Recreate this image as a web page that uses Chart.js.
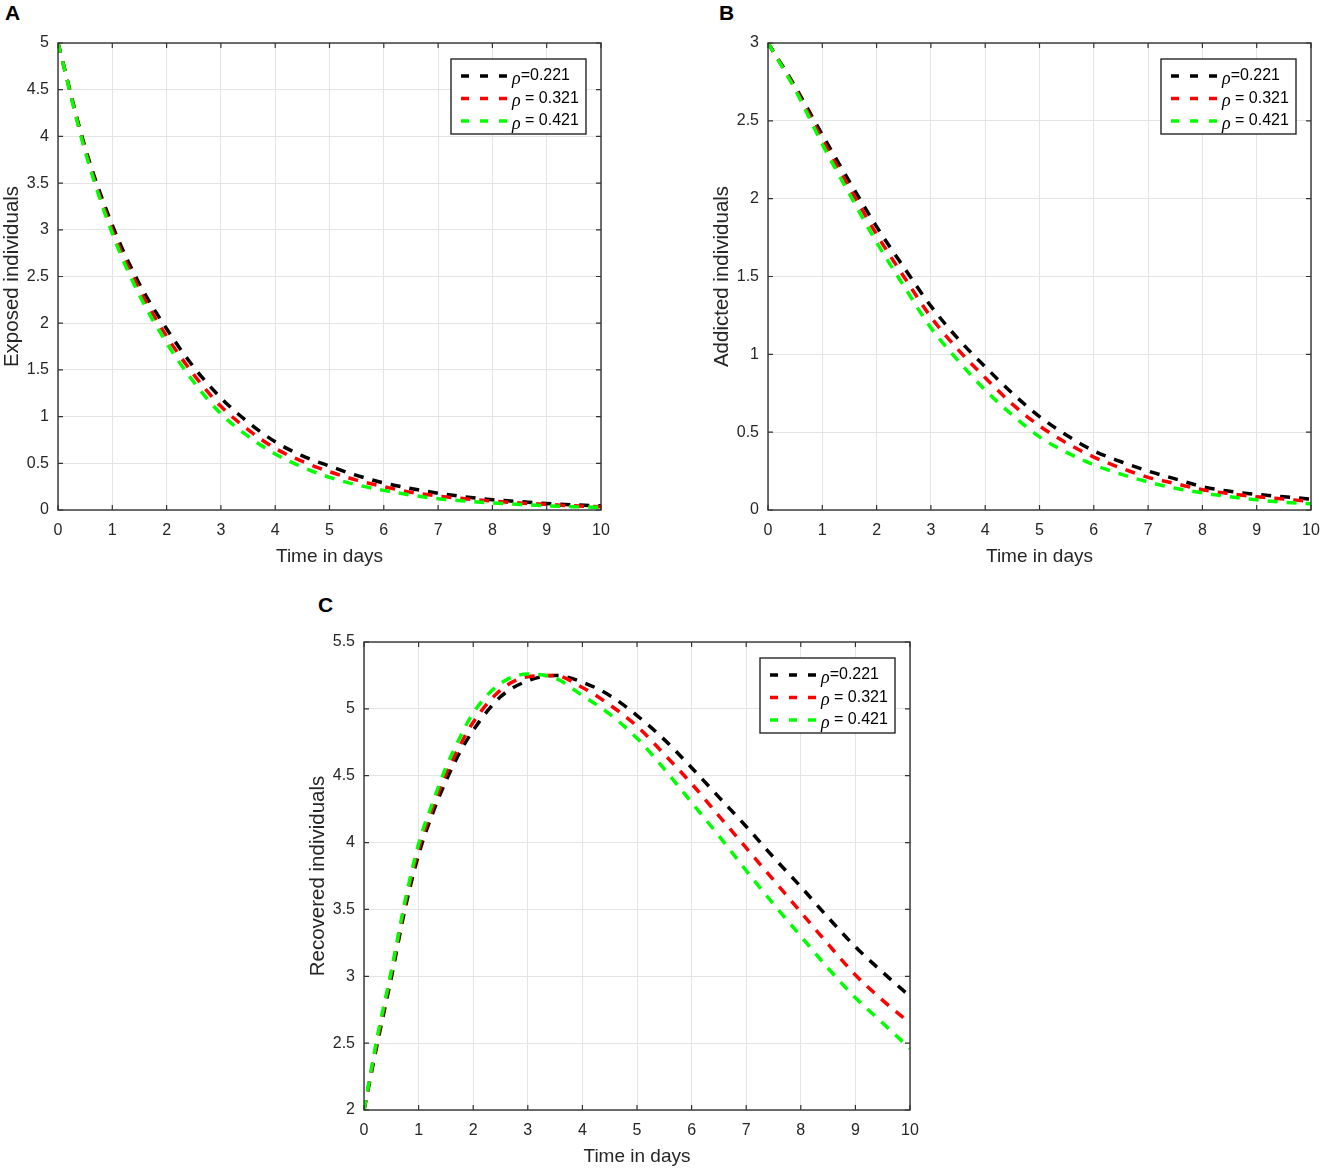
<!DOCTYPE html>
<html>
<head>
<meta charset="utf-8">
<script src="https://cdn.jsdelivr.net/npm/chart.js@4.4.1/dist/chart.umd.min.js"></script>
<style>
    body { margin: 0; background: #fff; width: 1325px; height: 1170px; position: relative; overflow: hidden; font-family: "Liberation Sans", Arial, sans-serif; }
    canvas { position: absolute; }
    .lbl { position: absolute; font-weight: bold; font-size: 21px; color: #000; }
</style>
</head>
<body>
<div class="lbl" style="left:5px;top:1px">A</div>
<div class="lbl" style="left:719px;top:1px">B</div>
<div class="lbl" style="left:318px;top:593px">C</div>
<canvas id="chartA" width="620" height="580" style="left:0;top:0"></canvas>
<canvas id="chartB" width="625" height="580" style="left:700px;top:0"></canvas>
<canvas id="chartC" width="625" height="580" style="left:300px;top:590px"></canvas>
<script>
// datos
const rhoLabels = ['=0.221', ' = 0.321', ' = 0.421'];
const lineColors = ['#000000', '#ff0000', '#00ff00'];

const days = [0, 0.5, 1, 1.5, 2, 2.5, 3, 3.5, 4, 4.5, 5, 5.5, 6, 6.5, 7, 7.5, 8, 8.5, 9, 9.5, 10];

const exposed221 = [5, 3.88, 3.05, 2.42, 1.94, 1.53, 1.2, 0.94, 0.73, 0.58, 0.47, 0.37, 0.29, 0.23, 0.18, 0.14, 0.11, 0.09, 0.07, 0.055, 0.045];
const exposed321 = [5, 3.86, 3.0, 2.36, 1.86, 1.45, 1.11, 0.86, 0.66, 0.52, 0.41, 0.32, 0.25, 0.19, 0.15, 0.12, 0.095, 0.075, 0.06, 0.045, 0.035];
const exposed421 = [5, 3.84, 2.96, 2.3, 1.79, 1.37, 1.03, 0.79, 0.6, 0.46, 0.35, 0.27, 0.21, 0.16, 0.12, 0.095, 0.075, 0.06, 0.045, 0.035, 0.028];

const addicted221 = [3, 2.72, 2.41, 2.11, 1.82, 1.56, 1.31, 1.1, 0.92, 0.75, 0.6, 0.48, 0.38, 0.31, 0.25, 0.2, 0.15, 0.12, 0.1, 0.085, 0.07];
const addicted321 = [3, 2.71, 2.38, 2.07, 1.77, 1.5, 1.24, 1.03, 0.85, 0.68, 0.54, 0.43, 0.34, 0.27, 0.21, 0.17, 0.13, 0.105, 0.085, 0.07, 0.055];
const addicted421 = [3, 2.7, 2.35, 2.03, 1.72, 1.44, 1.17, 0.96, 0.77, 0.61, 0.47, 0.37, 0.29, 0.23, 0.18, 0.14, 0.11, 0.085, 0.065, 0.05, 0.04];

const daysC = [0, 0.25, 0.5, 0.75, 1, 1.25, 1.5, 1.75, 2, 2.5, 3, 3.5, 4, 4.5, 5, 5.5, 6, 6.5, 7, 7.5, 8, 8.5, 9, 9.5, 10];
const recovered221 = [2, 2.51, 2.99, 3.5, 3.91, 4.21, 4.46, 4.67, 4.84, 5.09, 5.21, 5.25, 5.2, 5.1, 4.95, 4.77, 4.56, 4.34, 4.12, 3.89, 3.67, 3.44, 3.22, 3.03, 2.85];
const recovered321 = [2, 2.53, 3.02, 3.53, 3.95, 4.25, 4.51, 4.72, 4.9, 5.14, 5.24, 5.25, 5.16, 5.03, 4.87, 4.66, 4.44, 4.2, 3.96, 3.72, 3.48, 3.24, 3.01, 2.82, 2.65];
const recovered421 = [2, 2.56, 3.04, 3.56, 3.99, 4.29, 4.56, 4.78, 4.97, 5.19, 5.26, 5.23, 5.1, 4.96, 4.78, 4.55, 4.3, 4.05, 3.79, 3.54, 3.3, 3.06, 2.84, 2.65, 2.46];

const xTicks = [0, 1, 2, 3, 4, 5, 6, 7, 8, 9, 10];

const FONT = '"Liberation Sans", Arial, sans-serif';
const TXT = '#262626';

// marco estilo matlab + leyenda dentro del area
const framePlugin = {
    id: 'frame',
    afterDatasetsDraw(chart) {
        const { ctx, chartArea: a, scales } = chart;
        ctx.save();
        ctx.strokeStyle = '#333333';
        ctx.lineWidth = 1.4;
        ctx.strokeRect(a.left, a.top, a.right - a.left, a.bottom - a.top);
        ctx.lineWidth = 1.2;
        ctx.beginPath();
        scales.x.ticks.forEach(t => {
            const px = scales.x.getPixelForValue(t.value);
            ctx.moveTo(px, a.bottom); ctx.lineTo(px, a.bottom - 5);
            ctx.moveTo(px, a.top); ctx.lineTo(px, a.top + 5);
        });
        scales.y.ticks.forEach(t => {
            const py = scales.y.getPixelForValue(t.value);
            ctx.moveTo(a.left, py); ctx.lineTo(a.left + 5, py);
            ctx.moveTo(a.right, py); ctx.lineTo(a.right - 5, py);
        });
        ctx.stroke();

        // leyenda
        const w = 135, h = 75;
        const bx = a.right - 15 - w, by = a.top + 16;
        ctx.fillStyle = '#fff';
        ctx.fillRect(bx, by, w, h);
        ctx.strokeStyle = '#262626';
        ctx.lineWidth = 1.4;
        ctx.strokeRect(bx, by, w, h);
        rhoLabels.forEach((lab, i) => {
            const y = by + 17 + i * 22.5;
            ctx.strokeStyle = lineColors[i];
            ctx.lineWidth = 3.5;
            ctx.setLineDash([8, 11]);
            ctx.beginPath();
            ctx.moveTo(bx + 10, y); ctx.lineTo(bx + 56, y);
            ctx.stroke();
            ctx.setLineDash([]);
            ctx.fillStyle = '#000';
            ctx.textBaseline = 'middle';
            ctx.font = 'italic 18px "Liberation Serif", serif';
            ctx.fillText('\u03c1', bx + 61, y + 3);
            const rw = ctx.measureText('\u03c1').width;
            ctx.font = '16px ' + FONT;
            ctx.fillText(lab, bx + 61 + rw, y);
        });
        ctx.restore();
    }
};

function makePanel(id, xs, series, yMin, yMax, yStep, yTitle, lay) {
    const ctx = document.getElementById(id).getContext('2d');
    return new Chart(ctx, {
        type: 'line',
        data: {
            datasets: series.map((vals, i) => ({
                label: 'rho' + rhoLabels[i],
                data: xs.map((x, k) => ({ x: x, y: vals[k] })),
                borderColor: lineColors[i],
                borderWidth: 3.5,
                borderDash: [10, 9],
                pointRadius: 0,
                fill: false,
                cubicInterpolationMode: 'monotone',
                order: 3 - i
            }))
        },
        options: {
            responsive: false,
            animation: false,
            devicePixelRatio: 1,
            layout: { padding: { left: 0, right: lay.right, top: lay.top, bottom: 0 } },
            plugins: { legend: { display: false }, tooltip: { enabled: false } },
            scales: {
                x: {
                    type: 'linear', min: 0, max: 10,
                    afterBuildTicks: s => { s.ticks = xTicks.map(v => ({ value: v })); },
                    afterFit: s => { s.height = lay.xh; s.paddingRight = 0; s.paddingLeft = 0; },
                    grid: { color: '#e4e4e4', lineWidth: 1, drawTicks: false },
                    border: { display: false },
                    ticks: { padding: 11, color: TXT, font: { family: FONT, size: 16 }, maxRotation: 0, callback: v => String(v) },
                    title: { display: true, text: 'Time in days', color: TXT, font: { family: FONT, size: 19 }, padding: { top: 0, bottom: lay.xtb } }
                },
                y: {
                    type: 'linear', min: yMin, max: yMax,
                    ticks: { stepSize: yStep, padding: 9, color: TXT, font: { family: FONT, size: 16 }, callback: v => String(v) },
                    afterFit: s => { s.width = lay.yw; },
                    grid: { color: '#e4e4e4', lineWidth: 1, drawTicks: false },
                    border: { display: false },
                    title: { display: true, text: yTitle, color: TXT, font: { family: FONT, size: 20.5 }, padding: { top: lay.ytp, bottom: 0 } }
                }
            }
        },
        plugins: [framePlugin]
    });
}

makePanel('chartA', days, [exposed221, exposed321, exposed421], 0, 5, 0.5, 'Exposed individuals',
    { right: 19, top: 43, yw: 58, xh: 70, xtb: 12, ytp: 0 });
makePanel('chartB', days, [addicted221, addicted321, addicted421], 0, 3, 0.5, 'Addicted individuals',
    { right: 14, top: 43, yw: 68, xh: 70, xtb: 12, ytp: 10 });
makePanel('chartC', daysC, [recovered221, recovered321, recovered421], 2, 5.5, 0.5, 'Recovered individuals',
    { right: 15, top: 52, yw: 64, xh: 60, xtb: 2, ytp: 6 });
</script>
</body>
</html>
